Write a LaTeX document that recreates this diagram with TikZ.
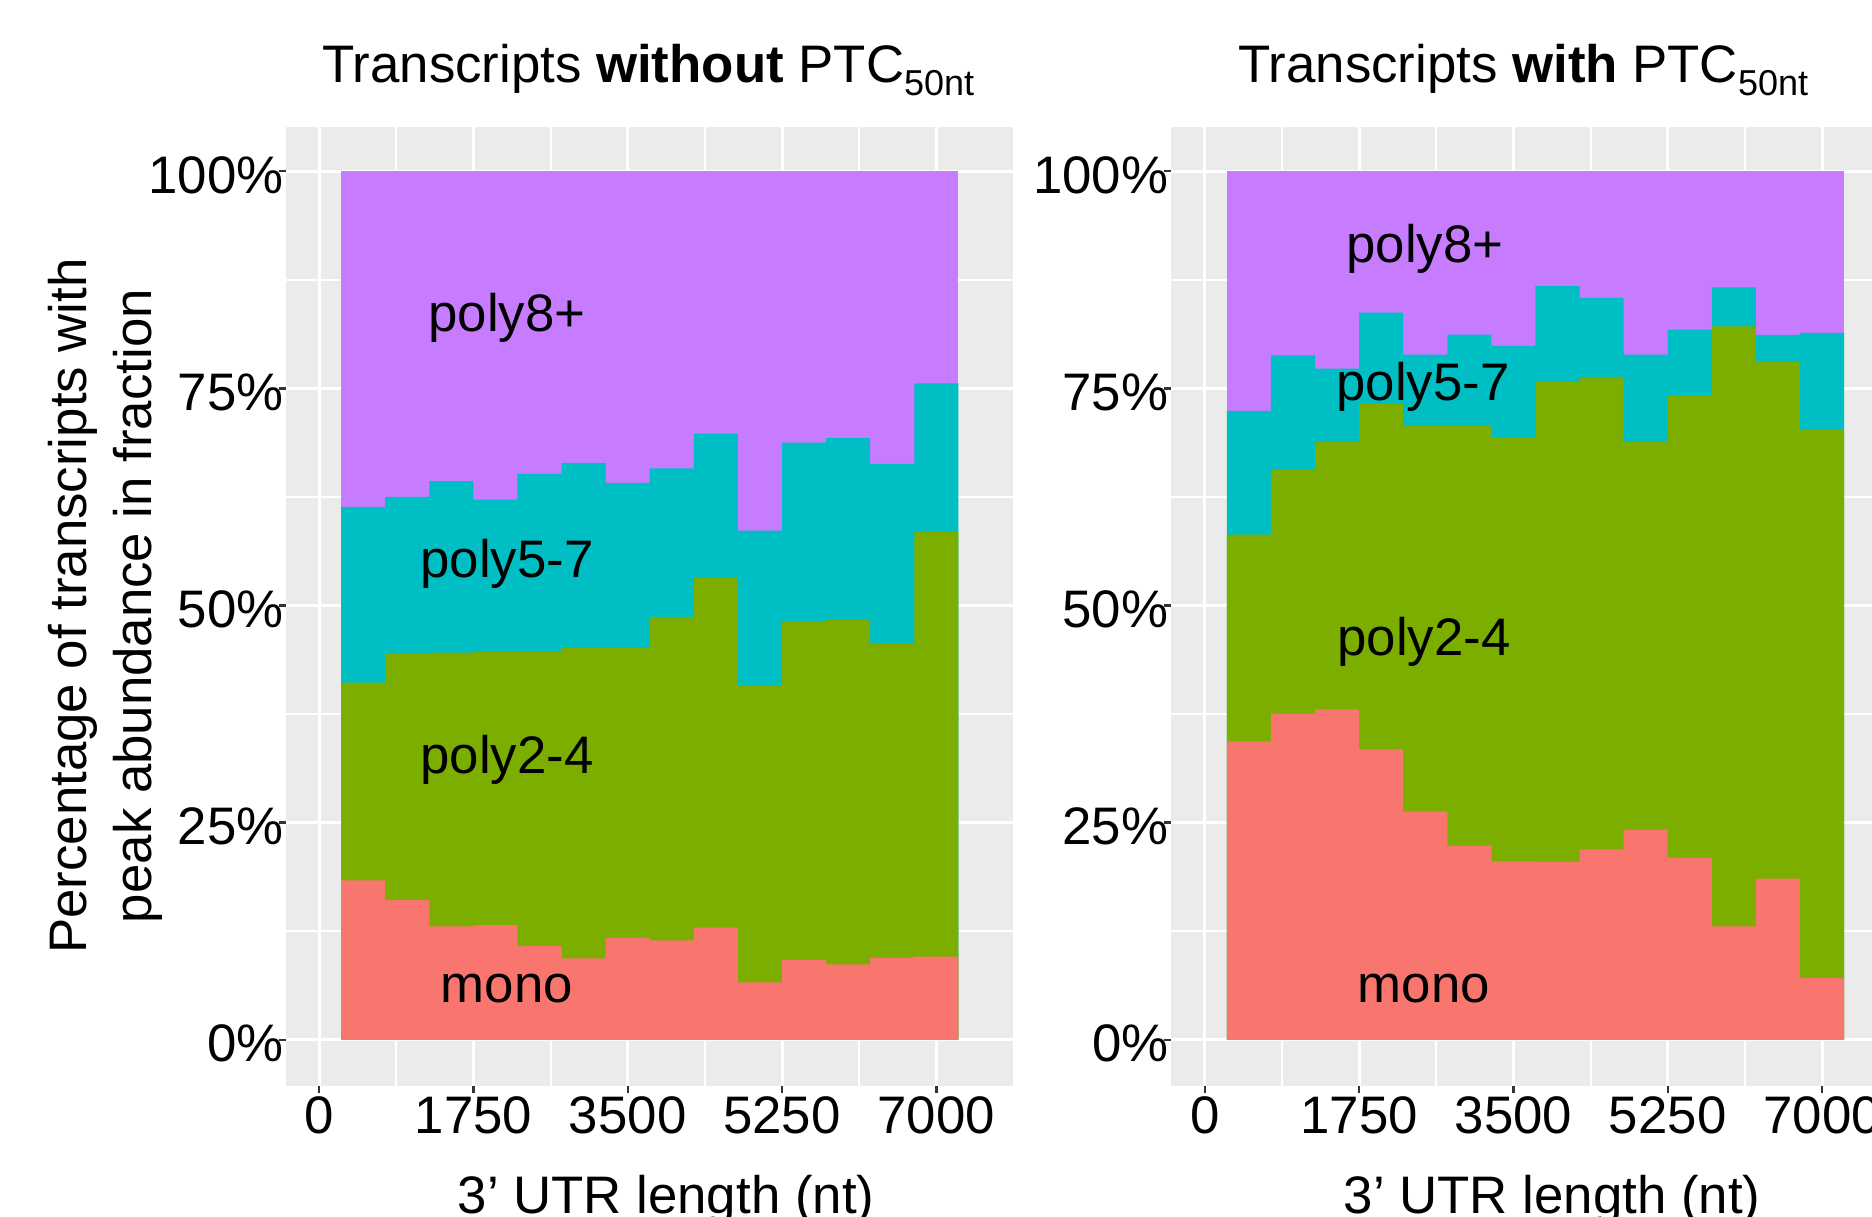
\documentclass[tikz,border=0pt]{standalone}
\usepackage{fontspec}
\setmainfont{Liberation Sans}

\definecolor{panelbg}{HTML}{EBEBEB}
\definecolor{cmono}{HTML}{F8766D}
\definecolor{cpolyA}{HTML}{7CAE00}
\definecolor{cpolyB}{HTML}{00BFC4}
\definecolor{cpolyC}{HTML}{C77CFF}
\definecolor{tickgray}{HTML}{333333}

\newcommand\plotfont{\fontsize{26.4pt}{31pt}\selectfont}
\newcommand\subfont{\fontsize{18pt}{21pt}\selectfont}

% vertical position (px) of a percentage value
\pgfmathdeclarefunction{yp}{1}{\pgfmathparse{1039.8-8.686*#1}}

% panel background, grid, ticks and tick labels
% #1 left edge of panel, #2 position of 0 nt, #3 tag
\newcommand\plotpanel[3]{%
  \fill[panelbg] (#1,126.7) rectangle ({#1+726.5},1085.7);
  \foreach \g in {77.15,231.45,385.75,540.05}
    \draw[gridminor] ({#2+\g},126.7) -- ({#2+\g},1085.7);
  \foreach \p in {12.5,37.5,62.5,87.5}
    \draw[gridminor] (#1,{yp(\p)}) -- ({#1+726.5},{yp(\p)});
  \foreach \g in {0,154.3,308.6,462.9,617.2}
    \draw[gridmajor] ({#2+\g},126.7) -- ({#2+\g},1085.7);
  \foreach \p in {0,25,50,75,100}
    \draw[gridmajor] (#1,{yp(\p)}) -- ({#1+726.5},{yp(\p)});
  \foreach \g/\v in {0/0,154.3/1750,308.6/3500,462.9/5250,617.2/7000}{
    \draw[tickmark] ({#2+\g},1085.7) -- ({#2+\g},1093);
    \node[lab, anchor=base] (xtick#3\v) at ({#2+\g},1133) {\v};
  }
  \foreach \p in {0,25,50,75,100}{
    \draw[tickmark] ({#1-7},{yp(\p)}) -- (#1,{yp(\p)});
    \node[lab, anchor=base east] (ytick#3\p) at ({#1-2},{yp(\p)+22}) {\p\%};
  }
}

% one stacked layer drawn as a step outline over 14 bins of 500 nt
% #1 colour, #2 left edge of first bin, #3 upper values in percent
\newcommand\stacklayer[3]{%
  \fill[#1] (#2,1039.8)
    \foreach \v [count=\k from 0] in {#3} {
      -- ({#2+\k*44.09},{yp(\v)}) -- ({#2+(\k+1)*44.09},{yp(\v)})
    } -- ({#2+14*44.09},1039.8) -- cycle;
}

\begin{document}
\begin{tikzpicture}[x=0.5pt,y=-0.5pt,
  gridminor/.style={white, line width=1pt},
  gridmajor/.style={white, line width=1.5pt},
  tickmark/.style={tickgray, line width=1.2pt},
  lab/.style={inner sep=0pt, font=\plotfont, text=black},
]
\useasboundingbox (0,0) rectangle (1872,1216);
\clip (0,0) rectangle (1872,1216);

% ---------- left panel: transcripts without PTC ----------
\plotpanel{286}{319.1}{L}
\fill[cpolyC] (341.1,{yp(100)}) rectangle ({341.1+14*44.09},{yp(0)});
\stacklayer{cpolyB}{341.1}{61.35,62.5,64.31,62.2,65.15,66.42,64.11,65.8,69.8,58.63,68.76,69.26,66.3,75.56}
\stacklayer{cpolyA}{341.1}{41.13,44.39,44.58,44.65,44.65,45.19,45.19,48.68,53.14,40.78,48.19,48.34,45.62,58.51}
\stacklayer{cmono}{341.1}{18.37,16.1,13.07,13.2,10.8,9.38,11.76,11.46,12.92,6.62,9.19,8.69,9.46,9.58}

\node[lab, anchor=base] (labL8) at (507,331) {poly8+};
\node[lab, anchor=base] (labL57) at (507,577) {poly5-7};
\node[lab, anchor=base] (labL24) at (507,773) {poly2-4};
\node[lab, anchor=base] (labLmono) at (507,1002) {mono};

\node[lab, anchor=base west] (titleL) at (322,82.5)
  {Transcripts \textbf{without} PTC\raisebox{-6.5pt}{\subfont 50nt}};
\node[lab, anchor=base] (xtitleL) at (666,1213) {3’ UTR length (nt)};

% ---------- right panel: transcripts with PTC ----------
\plotpanel{1170.7}{1204.8}{R}
\fill[cpolyC] (1226.8,{yp(100)}) rectangle ({1226.8+14*44.09},{yp(0)});
\stacklayer{cpolyB}{1226.8}{72.4,78.81,77.28,83.73,78.89,81.2,79.89,86.76,85.41,78.89,81.77,86.64,81.15,81.38}
\stacklayer{cpolyA}{1226.8}{58.17,65.6,68.8,73.25,70.64,70.72,69.37,75.74,76.32,68.83,74.21,82.15,78.12,70.29}
\stacklayer{cmono}{1226.8}{34.37,37.56,38.05,33.45,26.27,22.36,20.55,20.47,21.93,24.2,20.98,13.07,18.56,7.12}

\node[lab, anchor=base] (labR8) at (1425,262) {poly8+};
\node[lab, anchor=base] (labR57) at (1423,400) {poly5-7};
\node[lab, anchor=base] (labR24) at (1424,655) {poly2-4};
\node[lab, anchor=base] (labRmono) at (1424,1002) {mono};

\node[lab, anchor=base west] (titleR) at (1238,82.5)
  {Transcripts \textbf{with} PTC\raisebox{-6.5pt}{\subfont 50nt}};
\node[lab, anchor=base] (xtitleR) at (1552,1213) {3’ UTR length (nt)};

% ---------- shared y-axis title ----------
\node[lab, rotate=90, anchor=base] (ytitleA) at (86,606) {Percentage of transcripts with};
\node[lab, rotate=90, anchor=base] (ytitleB) at (151.5,606) {peak abundance in fraction};
\end{tikzpicture}
\end{document}
